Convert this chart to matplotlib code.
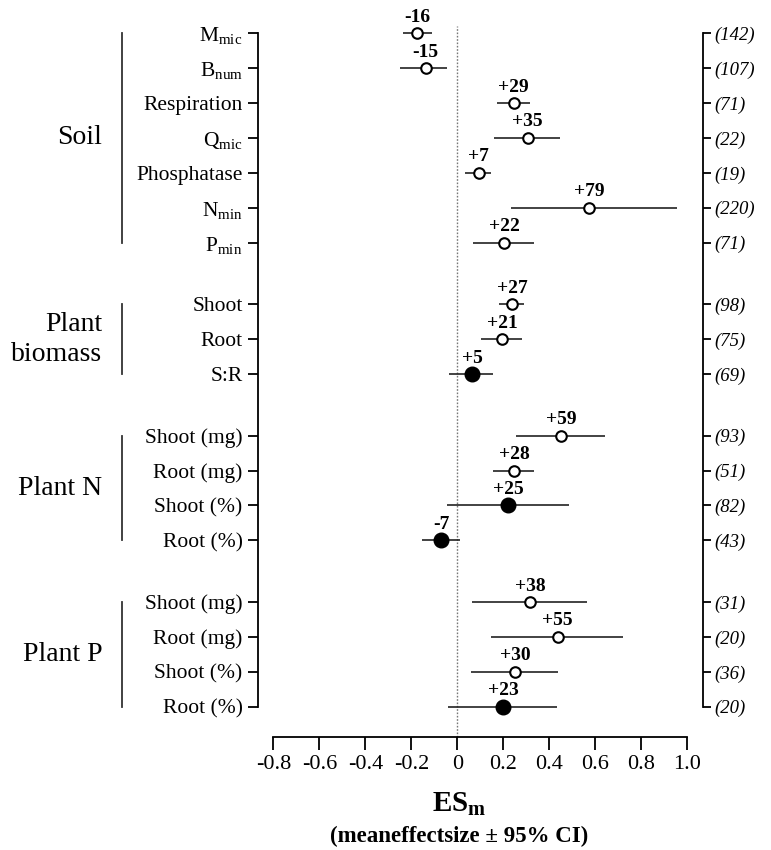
import numpy as np
import matplotlib
matplotlib.use("Agg")
import matplotlib.pyplot as plt
from matplotlib.transforms import blended_transform_factory

plt.rcParams['font.family'] = ['Liberation Serif', 'DejaVu Serif']
plt.rcParams['mathtext.fontset'] = 'custom'
plt.rcParams['mathtext.rm'] = 'Liberation Serif'
plt.rcParams['mathtext.it'] = 'Liberation Serif:italic'
plt.rcParams['mathtext.bf'] = 'Liberation Serif:bold'

# Data
groups = ["Soil", "Plant\nbiomass", "Plant N", "Plant P"]
group_sizes = [7, 3, 4, 4]
labels = [r"M$_{\mathrm{mic}}$", r"B$_{\mathrm{num}}$", "Respiration", r"Q$_{\mathrm{mic}}$",
          "Phosphatase", r"N$_{\mathrm{min}}$", r"P$_{\mathrm{min}}$",
          "Shoot", "Root", "S:R",
          "Shoot (mg)", "Root (mg)", "Shoot (%)", "Root (%)",
          "Shoot (mg)", "Root (mg)", "Shoot (%)", "Root (%)"]
es = [-0.174, -0.137, 0.245, 0.306, 0.093, 0.574, 0.203,
      0.239, 0.196, 0.064,
      0.451, 0.247, 0.220, -0.070,
      0.316, 0.437, 0.251, 0.200]
ci_lo = [-0.237, -0.249, 0.174, 0.160, 0.033, 0.233, 0.067,
         0.181, 0.104, -0.035,
         0.255, 0.157, -0.046, -0.155,
         0.065, 0.147, 0.060, -0.042]
ci_hi = [-0.111, -0.043, 0.317, 0.447, 0.145, 0.957, 0.333,
         0.291, 0.280, 0.154,
         0.642, 0.333, 0.484, 0.012,
         0.563, 0.719, 0.437, 0.432]
pct = ["-16", "-15", "+29", "+35", "+7", "+79", "+22",
       "+27", "+21", "+5",
       "+59", "+28", "+25", "-7",
       "+38", "+55", "+30", "+23"]
n_obs = [142, 107, 71, 22, 19, 220, 71,
         98, 75, 69,
         93, 51, 82, 43,
         31, 20, 36, 20]
significant = [True, True, True, True, True, True, True,
               True, True, False,
               True, True, False, False,
               True, True, True, False]
xticks = [-0.8, -0.6, -0.4, -0.2, 0, 0.2, 0.4, 0.6, 0.8, 1.0]
xticklabels = ["-0.8", "-0.6", "-0.4", "-0.2", "0", "0.2", "0.4", "0.6", "0.8", "1.0"]

# row positions, with a gap between groups
gap = 1.77
ypos = []
starts = []
y = 0.0
for k, size in enumerate(group_sizes):
    starts.append(y)
    for i in range(size):
        ypos.append(y + i)
    y = y + size - 1 + gap

fig = plt.figure(figsize=(7.71, 8.5), dpi=100)
ax = fig.add_axes([0.3346, 0.1329, 0.5772, 0.8365])
ax.set_xlim(-0.8665, 1.0683)
ax.set_ylim(20.18, -0.21)

ax.axvline(0, color='#777777', ls=(0, (1.2, 1.2)), lw=1.0, zorder=1)

for i in range(len(es)):
    ax.hlines(ypos[i], ci_lo[i], ci_hi[i], color='#222222', lw=1.2, zorder=2)
    if significant[i]:
        ax.plot(es[i], ypos[i], 'o', ms=7.6, mfc='white', mec='black', mew=1.5, zorder=3)
    else:
        ax.plot(es[i], ypos[i], 'o', ms=10.5, mfc='black', mec='black', zorder=3)
    ax.annotate(pct[i], (es[i], ypos[i]), xytext=(0, 11.5), textcoords='offset points',
                ha='center', va='center', fontsize=14, fontweight='bold')

# left axis with row labels
ax.spines['top'].set_visible(False)
ax.spines['left'].set_bounds(ypos[0], ypos[-1])
ax.spines['right'].set_bounds(ypos[0], ypos[-1])
ax.spines['bottom'].set_bounds(-0.8, 1.0)
for s in ['left', 'right', 'bottom']:
    ax.spines[s].set_linewidth(1.3)

ax.set_yticks(ypos)
ax.set_yticklabels(labels, fontsize=15.5)
ax.tick_params(axis='y', direction='out', length=7, width=1.3, pad=4)

ax2 = ax.twinx()
ax2.set_ylim(ax.get_ylim())
ax2.set_yticks(ypos)
ax2.set_yticklabels(["(%d)" % n for n in n_obs], fontsize=13.5, style='italic')
ax2.tick_params(axis='y', direction='out', length=6, width=1.3, pad=2)
for s in ['left', 'top', 'bottom', 'right']:
    ax2.spines[s].set_visible(False)

ax.set_xticks(xticks)
ax.set_xticklabels(xticklabels, fontsize=16)
ax.tick_params(axis='x', direction='out', length=9, width=1.3, pad=4)

# group brackets and names
tr = blended_transform_factory(ax.transAxes, ax.transData)
for k, size in enumerate(group_sizes):
    y0 = starts[k]
    y1 = starts[k] + size - 1
    ax.plot([-0.3056, -0.3056], [y0, y1], color='#333333', lw=1.3,
            transform=tr, clip_on=False)
    ax.text(-0.35, (y0 + y1) / 2, groups[k], transform=tr, ha='right', va='center',
            fontsize=20, linespacing=1.25)

fig.text(0.595, 0.0447, r"ES$_{\mathbf{m}}$", ha='center', va='baseline',
         fontsize=21, fontweight='bold')
fig.text(0.595, 0.0094, "(meaneffectsize \u00b1 95% CI)", ha='center', va='baseline',
         fontsize=16.5, fontweight='bold')

fig.savefig("out.png", dpi=100)
